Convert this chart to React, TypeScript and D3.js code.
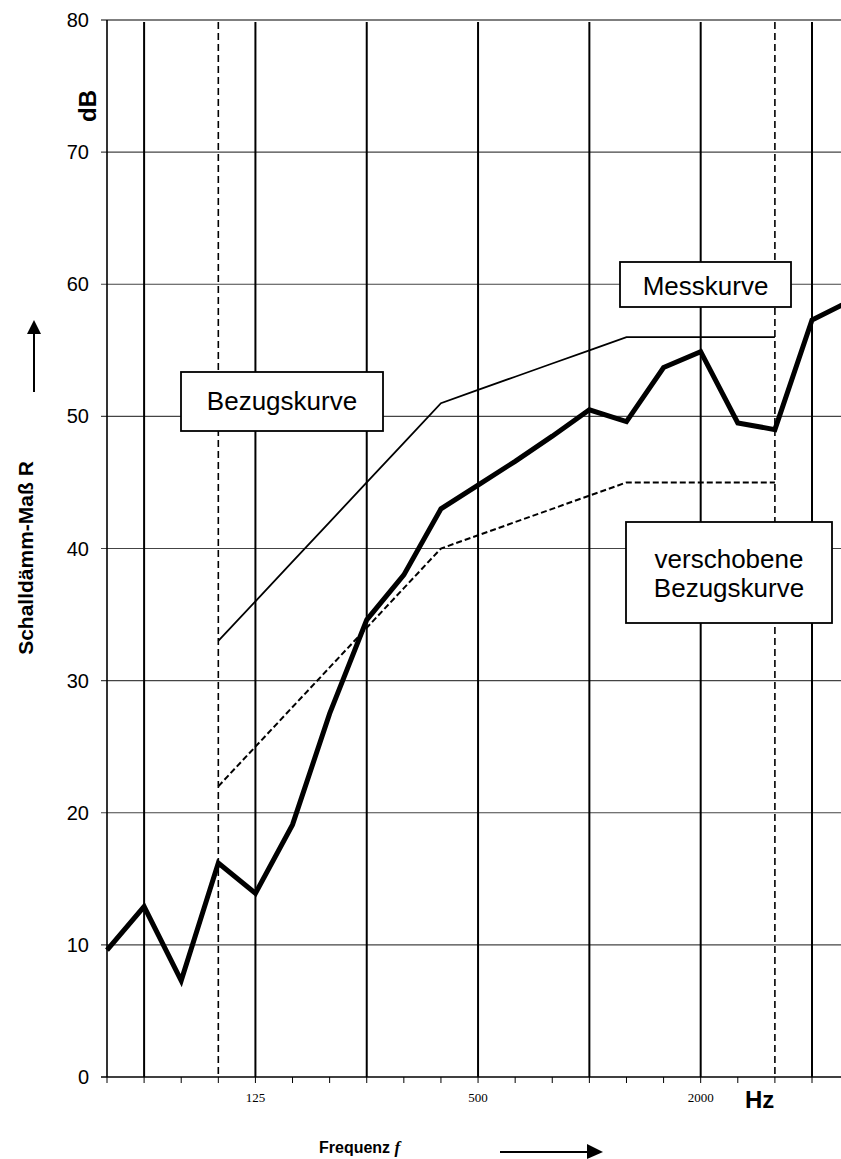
import React from "react";
import * as d3 from "d3";

// third-octave bands (nominal), measured curve
const bands = [50, 63, 80, 100, 125, 160, 200, 250, 315, 400, 500, 630, 800, 1000, 1250, 1600, 2000, 2500, 3150, 4000, 5000];
const measured = [9.6, 12.9, 7.3, 16.2, 13.9, 19.1, 27.5, 34.6, 38.0, 43.0, 44.8, 46.6, 48.5, 50.5, 49.6, 53.7, 54.9, 49.5, 49.0, 57.3, 58.7];

// reference curve 100..3150 Hz
const refBands = [100, 125, 160, 200, 250, 315, 400, 500, 630, 800, 1000, 1250, 1600, 2000, 2500, 3150];
const reference = [33, 36, 39, 42, 45, 48, 51, 52, 53, 54, 55, 56, 56, 56, 56, 56];
const shifted = [22, 25, 28, 31, 34, 37, 40, 41, 42, 43, 44, 45, 45, 45, 45, 45];

const yTicks = [0, 10, 20, 30, 40, 50, 60, 70, 80];
const octaveLines = [63, 125, 250, 500, 1000, 2000, 4000];
const dashedLines = [100, 3150];
const xLabels = [125, 500, 2000];

const W = 841;
const H = 1159;
const left = 107;
const top = 20;
const bottom = 1077;

// nominal band -> exact centre frequency
const exact = (f: number) => 1000 * Math.pow(2, (bands.indexOf(f) - 13) / 3);

const x = d3.scaleLog().domain([exact(50), exact(4000)]).range([left, 812]);
const y = d3.scaleLinear().domain([0, 80]).range([bottom, top]);

const sans = "'Liberation Sans', Arial, sans-serif";
const serif = "'Liberation Serif', 'Times New Roman', serif";

type Pt = { f: number; v: number };
const line = d3
  .line<Pt>()
  .x((d) => x(exact(d.f)))
  .y((d) => y(d.v));

const zip = (fs: number[], vs: number[]): Pt[] => fs.map((f, i) => ({ f, v: vs[i] }));

const Box = ({ x0, y0, w, h, lines, base }: { x0: number; y0: number; w: number; h: number; lines: string[]; base: number[] }) => (
  <g>
    <rect x={x0} y={y0} width={w} height={h} fill="#fff" stroke="#000" strokeWidth={1.8} />
    {lines.map((t, i) => (
      <text key={i} x={x0 + w / 2} y={base[i]} textAnchor="middle" fontFamily={sans} fontSize={26}>
        {t}
      </text>
    ))}
  </g>
);

export default function App() {
  const xEnd = x(exact(5000));
  return (
    <svg width={W} height={H} style={{ position: "absolute", left: 0, top: 0, background: "#fff" }}>
      {/* horizontal grid */}
      {yTicks.map((t) => (
        <line
          key={t}
          x1={left - 6}
          x2={xEnd}
          y1={y(t)}
          y2={y(t)}
          stroke={t === 0 || t === 80 ? "#000" : "#444"}
          strokeWidth={t === 0 ? 1.6 : 1.1}
        />
      ))}
      {/* x ticks */}
      {bands.map((f) => (
        <line key={f} x1={x(exact(f))} x2={x(exact(f))} y1={bottom} y2={bottom + 6} stroke="#000" strokeWidth={1} />
      ))}
      {/* octave lines */}
      {octaveLines.map((f) => (
        <line key={f} x1={x(exact(f))} x2={x(exact(f))} y1={top + 2} y2={bottom} stroke="#000" strokeWidth={2} />
      ))}
      {dashedLines.map((f) => (
        <line
          key={f}
          x1={x(exact(f))}
          x2={x(exact(f))}
          y1={top + 2}
          y2={bottom}
          stroke="#000"
          strokeWidth={1.6}
          strokeDasharray="7,4"
        />
      ))}
      {/* y axis */}
      <line x1={left} x2={left} y1={top} y2={bottom} stroke="#000" strokeWidth={1.6} />
      {yTicks.map((t) => (
        <text key={t} x={89} y={y(t) + 7} textAnchor="end" fontFamily={sans} fontSize={20}>
          {t}
        </text>
      ))}
      {xLabels.map((f) => (
        <text key={f} x={x(exact(f))} y={1102} textAnchor="middle" fontFamily={serif} fontSize={13}>
          {f}
        </text>
      ))}

      {/* curves */}
      <path d={line(zip(refBands, reference)) ?? ""} fill="none" stroke="#000" strokeWidth={1.8} />
      <path d={line(zip(refBands, shifted)) ?? ""} fill="none" stroke="#000" strokeWidth={2} strokeDasharray="6,3" />
      <path d={line(zip(bands, measured)) ?? ""} fill="none" stroke="#000" strokeWidth={5} strokeLinejoin="miter" />

      {/* labels */}
      <Box x0={620} y0={262} w={171} h={45} lines={["Messkurve"]} base={[295]} />
      <Box x0={181} y0={372} w={202} h={59} lines={["Bezugskurve"]} base={[410]} />
      <Box x0={626} y0={522} w={206} h={101} lines={["verschobene", "Bezugskurve"]} base={[568, 597]} />

      {/* axis titles */}
      <text transform="translate(96,106) rotate(-90)" textAnchor="middle" fontFamily={sans} fontSize={24} fontWeight="bold">
        dB
      </text>
      <text transform="translate(33,558) rotate(-90)" textAnchor="middle" fontFamily={sans} fontSize={21} fontWeight="bold">
        Schalldämm-Maß R
      </text>
      <line x1={34} x2={34} y1={392} y2={332} stroke="#000" strokeWidth={2} />
      <polygon points="27,334 41,334 34,320" fill="#000" />

      <text x={745} y={1108} fontFamily={sans} fontSize={24} fontWeight="bold">
        Hz
      </text>
      <text x={319} y={1153} fontFamily={sans} fontSize={16} fontWeight="bold">
        Frequenz{" "}
        <tspan fontFamily={serif} fontStyle="italic" fontSize={17}>
          f
        </tspan>
      </text>
      <line x1={500} x2={589} y1={1152} y2={1152} stroke="#000" strokeWidth={2} />
      <polygon points="587,1144 587,1159 603,1152" fill="#000" />
    </svg>
  );
}
